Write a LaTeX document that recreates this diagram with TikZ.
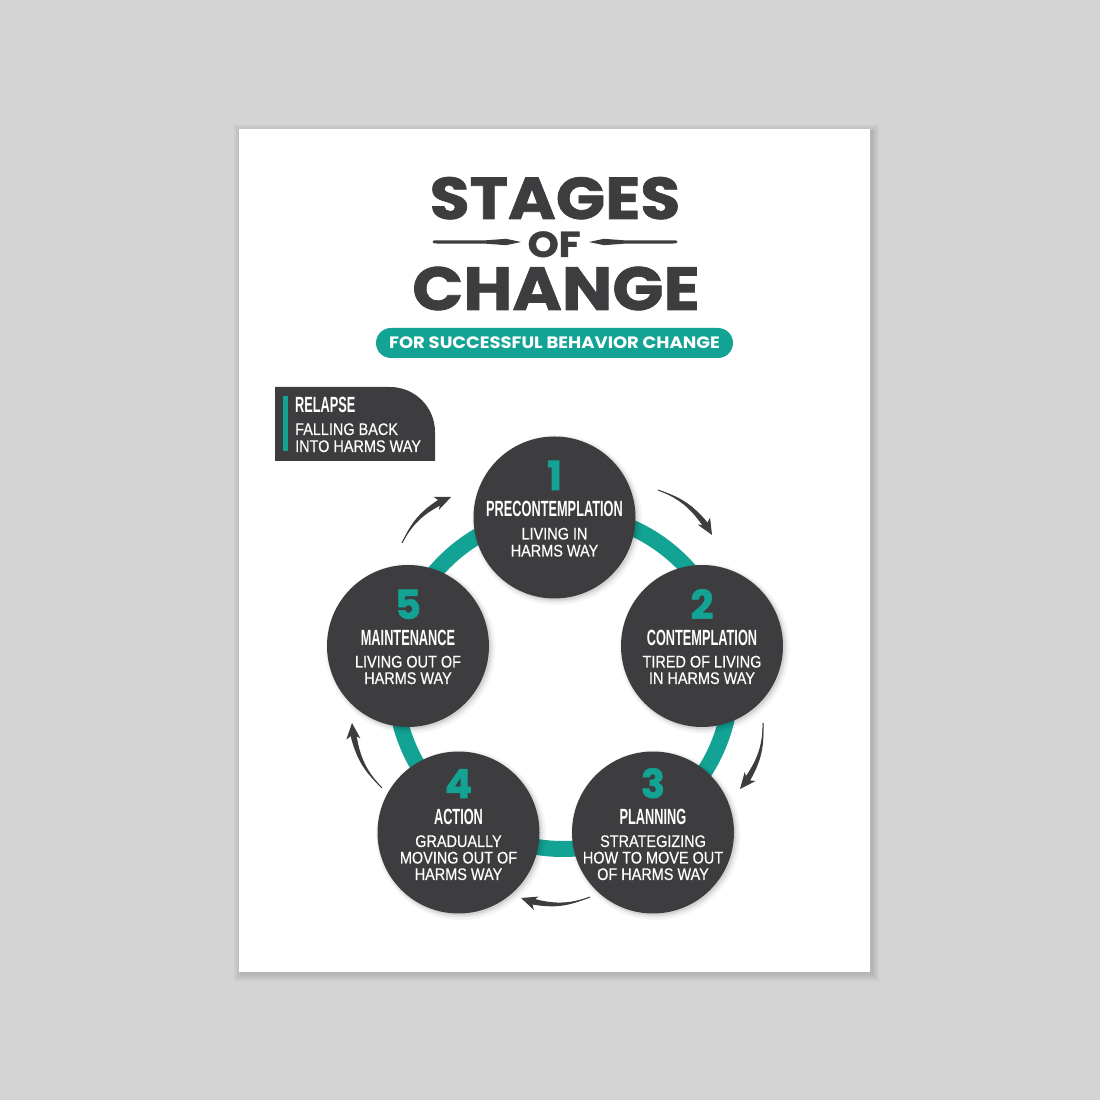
\documentclass[tikz,border=0pt]{standalone}
\usepackage{fontspec}
\setmainfont{Liberation Sans}
\newfontfamily\titlefont[FakeStretch=1.1,FakeBold=1.2]{Poppins}
\newfontfamily\pillfont[FakeStretch=1.09]{Poppins}
\newfontfamily\numfont[FakeBold=1.5]{Poppins}
\newfontfamily\condfont[FakeStretch=0.58]{Liberation Sans}
\newfontfamily\bodyfont[FakeStretch=0.86,FakeBold=0.35]{Liberation Sans}
\usetikzlibrary{calc,arrows.meta}
\definecolor{bggray}{RGB}{212,212,212}
\definecolor{darkc}{RGB}{61,61,63}
\definecolor{tealc}{RGB}{19,163,149}
\tikzset{
  stagecirc/.style={circle, fill=darkc, minimum size=162pt, inner sep=0pt},
  numtxt/.style={font=\numfont\bfseries\fontsize{40}{40}\selectfont, text=tealc, anchor=base, inner sep=0pt},
  stitle/.style={font=\condfont\bfseries\fontsize{22}{22}\selectfont, text=white, anchor=base, inner sep=0pt},
  sbody/.style={font=\bodyfont\fontsize{16.8}{17}\selectfont, text=white, anchor=base, inner sep=0pt},
  bigtitle/.style={font=\titlefont\bfseries\fontsize{#1}{#1}\selectfont, text=darkc, anchor=base, inner sep=0pt},
  swtip/.style={draw=darkc, line width=1pt, -{Stealth[length=16pt,width=14pt,inset=4.5pt]}},
  shade1/.style={black, opacity=0.035},
}
\begin{document}
\begin{tikzpicture}[x=1pt,y=1pt]
\useasboundingbox (0,0) rectangle (1100,1100);
\fill[bggray] (0,0) rectangle (1100,1100);
% poster shadow
\foreach \d in {7,5,3,1.5} {
  \fill[shade1] (239-\d+2,128-\d-2) rectangle (870+\d+2,971+\d-3);
}
\fill[white] (239,128) rectangle (870,971);

% title
\node[bigtitle=59] (stages) at (555,881) {STAGES};
\node[bigtitle=36] (of) at (554,843) {OF};
\node[bigtitle=61] (change) at (556,790) {CHANGE};
\fill[darkc] (434,859.5) -- (486,859.7) -- (506,861.2) -- (521,858) -- (506,854.8) -- (486,856.3) -- (434,856.5) arc[start angle=-90,end angle=-270,radius=1.5] -- cycle;
\fill[darkc] (676,859.5) -- (624,859.7) -- (604,861.2) -- (589,858) -- (604,854.8) -- (624,856.3) -- (676,856.5) arc[start angle=-90,end angle=90,radius=1.5] -- cycle;
\node[fill=tealc, rounded corners=15pt, minimum width=357pt, minimum height=30pt, inner sep=0pt,
      font=\pillfont\bfseries\fontsize{16.5}{16.5}\selectfont, text=white] (pill) at (554.5,757) {FOR SUCCESSFUL BEHAVIOR CHANGE};

% relapse box
\fill[darkc] (275,639) -- (275,713) -- (390,713) arc[start angle=90,end angle=0,radius=45] -- (435,639) -- cycle;
\fill[tealc] (283,649) rectangle (287.5,704);
\node[stitle, anchor=base west] (rel) at (295,687) {RELAPSE};
\node[sbody, anchor=base west] (rel1) at (295,665) {FALLING BACK};
\node[sbody, anchor=base west] (rel2) at (295,648) {INTO HARMS WAY};

% teal ring
\draw[tealc, line width=16pt] (563,419) circle[radius=168];

% circles
\foreach \n/\x/\y in {1/554.5/582.5, 2/702/454, 3/653/267.5, 4/458.5/267.5, 5/408/454} {
  \fill[black, opacity=0.04] (\x+2.5,\y-2.5) circle[radius=85];
  \fill[black, opacity=0.06] (\x+2,\y-2) circle[radius=83];
  \fill[black, opacity=0.08] (\x+1.5,\y-1.5) circle[radius=81.5];
  \node[stagecirc] (c\n) at (\x,\y) {};
}

% circle 1
\node[numtxt] (n1) at ([yshift=27.5pt]c1.center) {1};
\node[stitle] (t1) at ([yshift=0.5pt]c1.center) {PRECONTEMPLATION};
\node[sbody] (b1a) at ([yshift=-22pt]c1.center) {LIVING IN};
\node[sbody] (b1b) at ([yshift=-39pt]c1.center) {HARMS WAY};
% circle 2
\node[numtxt] (n2) at ([yshift=27pt]c2.center) {2};
\node[stitle] (t2) at ([yshift=0pt]c2.center) {CONTEMPLATION};
\node[sbody] (b2a) at ([yshift=-21.5pt]c2.center) {TIRED OF LIVING};
\node[sbody] (b2b) at ([yshift=-38pt]c2.center) {IN HARMS WAY};
% circle 5
\node[numtxt] (n5) at ([yshift=27pt]c5.center) {5};
\node[stitle] (t5) at ([yshift=0pt]c5.center) {MAINTENANCE};
\node[sbody] (b5a) at ([yshift=-21.5pt]c5.center) {LIVING OUT OF};
\node[sbody] (b5b) at ([yshift=-38pt]c5.center) {HARMS WAY};
% circle 3
\node[numtxt] (n3) at ([yshift=34.5pt]c3.center) {3};
\node[stitle] (t3) at ([yshift=7.5pt]c3.center) {PLANNING};
\node[sbody] (b3a) at ([yshift=-14.5pt]c3.center) {STRATEGIZING};
\node[sbody] (b3b) at ([yshift=-31pt]c3.center) {HOW TO MOVE OUT};
\node[sbody] (b3c) at ([yshift=-47.5pt]c3.center) {OF HARMS WAY};
% circle 4
\node[numtxt] (n4) at ([yshift=34.5pt]c4.center) {4};
\node[stitle] (t4) at ([yshift=7.5pt]c4.center) {ACTION};
\node[sbody] (b4a) at ([yshift=-14.5pt]c4.center) {GRADUALLY};
\node[sbody] (b4b) at ([yshift=-31pt]c4.center) {MOVING OUT OF};
\node[sbody] (b4c) at ([yshift=-47.5pt]c4.center) {HARMS WAY};

% swoosh arrows
\coordinate (a51t) at (402,557); \coordinate (a51h) at (451,603);
\coordinate (a12t) at (658,610); \coordinate (a12h) at (712,565);
\coordinate (a23t) at (763,377); \coordinate (a23h) at (740,311);
\coordinate (a34t) at (590,203); \coordinate (a34h) at (521,202);
\coordinate (a45t) at (382,312); \coordinate (a45h) at (352,377);
\foreach \a in {a51,a12,a23,a34,a45} {
  \path (\a t) to[bend left=20] coordinate[pos=0.86] (\a b) (\a h);
  \fill[darkc] (\a t) to[bend left=17] ($(\a b)!3.2pt!-90:(\a t)$) -- ($(\a b)!3.2pt!90:(\a t)$) to[bend right=17] (\a t);
  \draw[swtip] (\a t) to[bend left=20] (\a h);
}
\end{tikzpicture}
\end{document}
